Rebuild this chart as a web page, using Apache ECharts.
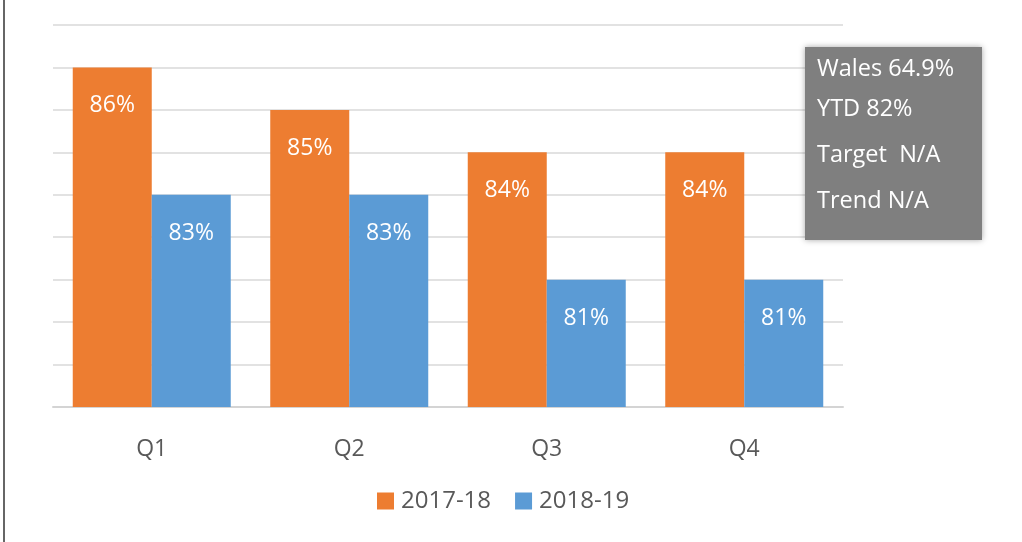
<!DOCTYPE html>
<html>
<head>
<meta charset="utf-8">
<script src="https://cdn.jsdelivr.net/npm/echarts@6/dist/echarts.min.js"></script>
<style>
html, body { margin: 0; padding: 0; background: #fff; }
#chart { width: 1022px; height: 542px; }
</style>
</head>
<body>
<div id="chart"></div>
<script>
var categories = ['Q1', 'Q2', 'Q3', 'Q4'];
var series1718 = [86, 85, 84, 84];
var series1819 = [83, 83, 81, 81];
var seriesNames = ['2017-18', '2018-19'];
var boxLines = ['Wales 64.9%', 'YTD 82%', 'Target  N/A', 'Trend N/A'];
var boxLineY = [69, 109, 155, 201];

var chartDom = document.getElementById('chart');
var myChart = echarts.init(chartDom);
var font = '"Open Sans", sans-serif';

var labelStyle = {
    show: true,
    position: 'insideTop',
    distance: 27,
    color: '#fff',
    fontSize: 23,
    fontFamily: font,
    formatter: '{c}%'
};

var graphics = [{
    type: 'line',
    shape: { x1: 4, y1: 0, x2: 4, y2: 542 },
    style: { stroke: '#333', lineWidth: 1.5 }
}, {
    type: 'rect',
    shape: { x: 805, y: 47, width: 177, height: 193 },
    style: {
        fill: '#7f7f7f',
        shadowBlur: 6,
        shadowColor: 'rgba(0,0,0,0.35)'
    },
    z: 10
}];
for (var i = 0; i < boxLines.length; i++) {
    graphics.push({
        type: 'text',
        x: 817,
        y: boxLineY[i],
        z: 11,
        style: {
            text: boxLines[i],
            fill: '#fff',
            fontSize: 23.5,
            fontFamily: font,
            verticalAlign: 'middle'
        }
    });
}

var option = {
    animation: false,
    grid: { left: 53, right: 179, top: 25, bottom: 135 },
    legend: {
        left: 372,
        top: 484,
        itemWidth: 17,
        itemHeight: 17,
        itemGap: 24,
        icon: 'rect',
        textStyle: { color: '#595959', fontSize: 24, fontFamily: font, padding: [0, 0, 0, 2] },
        data: seriesNames
    },
    xAxis: {
        type: 'category',
        data: categories,
        axisTick: { show: false },
        axisLine: { lineStyle: { color: '#d4d4d4', width: 2 } },
        axisLabel: { color: '#595959', fontSize: 23, fontFamily: font, margin: 31 }
    },
    yAxis: {
        type: 'value',
        min: 78,
        max: 87,
        interval: 1,
        axisLabel: { show: false },
        axisLine: { show: false },
        axisTick: { show: false },
        splitLine: { lineStyle: { color: '#d9d9d9', width: 1.5 } }
    },
    series: [{
        name: seriesNames[0],
        type: 'bar',
        data: series1718,
        barGap: '0%',
        barCategoryGap: '20%',
        itemStyle: { color: '#ED7D31' },
        label: labelStyle
    }, {
        name: seriesNames[1],
        type: 'bar',
        data: series1819,
        barGap: '0%',
        barCategoryGap: '20%',
        itemStyle: { color: '#5B9BD5' },
        label: labelStyle
    }],
    graphic: graphics
};

option && myChart.setOption(option);

window.addEventListener('resize', function () {
    myChart.resize();
});
</script>
</body>
</html>
